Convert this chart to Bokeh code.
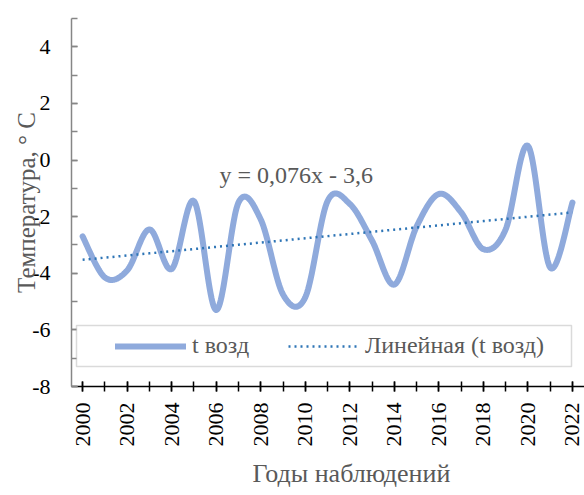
import numpy as np
from bokeh.plotting import figure
from bokeh.models import FixedTicker, Legend, LegendItem, Label, BoxAnnotation, Range1d, Title
from bokeh.embed import file_html
from bokeh.resources import INLINE

# ---- data ----
years = list(range(2000, 2023))
t_air = [-2.7, -4.15, -3.9, -2.45, -3.85, -1.45, -5.3, -1.5, -2.1, -4.75, -4.85, -1.45,
         -1.55, -2.85, -4.4, -2.35, -1.2, -1.85, -3.15, -2.45, 0.5, -3.8, -1.5]
trend_slope = 0.076
trend_intercept = -3.6
x_tick_values = list(range(2000, 2023, 2))
x_tick_labels = [str(v) for v in x_tick_values]
y_tick_values = [-8, -6, -4, -2, 0, 2, 4]
y_tick_labels = ["-8", "-6", "-4", "-2", "0", "2", "4"]
series_name = "t возд"
trend_name = "Линейная (t возд)"
equation_text = "y = 0,076x - 3,6"
x_title = "Годы наблюдений"
y_title = "Температура, ° С"

FONT = "Liberation Serif"
GRAY_TEXT = "#595959"


def smooth(xs, ys, n=24):
    """Excel-like smoothed line (cubic Bezier through the data points)."""
    x = np.asarray(xs, float)
    y = np.asarray(ys, float)
    N = len(x)
    px, py = [], []
    for i in range(N - 1):
        i0 = max(i - 1, 0)
        i3 = min(i + 2, N - 1)
        c1x = x[i] + (x[i + 1] - x[i0]) / 6
        c1y = y[i] + (y[i + 1] - y[i0]) / 6
        c2x = x[i + 1] - (x[i3] - x[i]) / 6
        c2y = y[i + 1] - (y[i3] - y[i]) / 6
        t = np.linspace(0, 1, n, endpoint=(i == N - 2))
        b0 = (1 - t) ** 3
        b1 = 3 * (1 - t) ** 2 * t
        b2 = 3 * (1 - t) * t ** 2
        b3 = t ** 3
        px.extend(b0 * x[i] + b1 * c1x + b2 * c2x + b3 * x[i + 1])
        py.extend(b0 * y[i] + b1 * c1y + b2 * c2y + b3 * y[i + 1])
    return px, py


sx, sy = smooth(years, t_air)
idx = np.arange(1, len(years) + 1)
trend = trend_slope * idx + trend_intercept

p = figure(width=584, height=495,
           x_range=Range1d(1999.5, 2022.54), y_range=Range1d(-8, 5),
           output_backend="svg", toolbar_location=None,
           min_border_left=71, min_border_top=18, min_border_right=0,
           min_border_bottom=106)
p.xgrid.visible = False
p.ygrid.visible = False
p.outline_line_color = None

r1 = p.line(sx, sy, line_color="#8FAADC", line_width=6,
            line_cap="round", line_join="round")
r2 = p.line(years, trend, line_color="#2E75B6", line_width=2.5,
            line_dash="2 4")

# x axis
xa = p.xaxis[0]
xa.ticker = FixedTicker(ticks=x_tick_values, minor_ticks=years)
xa.major_label_overrides = dict(zip(x_tick_values, x_tick_labels))
xa.major_label_orientation = np.pi / 2
xa.major_label_text_font = FONT
xa.major_label_text_font_size = "22px"
xa.major_label_text_color = "#000000"
xa.major_label_standoff = 11
xa.axis_line_color = "#000000"
xa.axis_line_width = 1.5
xa.major_tick_line_color = "#000000"
xa.minor_tick_line_color = "#000000"
xa.major_tick_line_width = 1.5
xa.minor_tick_line_width = 1.5
xa.major_tick_in = 5
xa.major_tick_out = 5
xa.minor_tick_in = 5
xa.minor_tick_out = 5

# y axis
ya = p.yaxis[0]
ya.ticker = FixedTicker(ticks=y_tick_values, minor_ticks=list(range(-8, 6)))
ya.major_label_overrides = dict(zip(y_tick_values, y_tick_labels))
ya.major_label_text_font = FONT
ya.major_label_text_font_size = "22px"
ya.major_label_text_color = "#000000"
ya.major_label_standoff = 21
ya.axis_line_color = "#868686"
ya.axis_line_width = 1.5
ya.major_tick_line_color = "#868686"
ya.minor_tick_line_color = "#868686"
ya.major_tick_line_width = 1.5
ya.minor_tick_line_width = 1.5
ya.major_tick_in = 6
ya.major_tick_out = 0
ya.minor_tick_in = 6
ya.minor_tick_out = 0
ya.axis_label = y_title
ya.axis_label_text_font = FONT
ya.axis_label_text_font_size = "25px"
ya.axis_label_text_font_style = "normal"
ya.axis_label_text_color = GRAY_TEXT
ya.axis_label_standoff = -11

# x title
xt = Title(text=x_title, align="left", offset=181, standoff=15,
           text_font=FONT, text_font_size="26px", text_font_style="normal",
           text_color=GRAY_TEXT)
p.add_layout(xt, "below")

# legend frame
box = BoxAnnotation(left=5, right=500, bottom=20, top=61,
                    left_units="screen", right_units="screen",
                    top_units="screen", bottom_units="screen",
                    fill_color="white", fill_alpha=1.0,
                    line_color="#868686", line_width=1.5)
p.add_layout(box)

legend = Legend(items=[LegendItem(label=series_name, renderers=[r1]),
                       LegendItem(label=trend_name, renderers=[r2])],
                orientation="horizontal", location=(34, 17),
                padding=10, spacing=0, margin=0,
                glyph_width=71, glyph_height=20, label_standoff=6,
                label_width=96,
                label_text_font=FONT, label_text_font_size="24px",
                label_text_color=GRAY_TEXT,
                border_line_alpha=0, background_fill_alpha=0)
p.add_layout(legend)

eq = Label(x=148, y=212, x_units="screen", y_units="screen",
           text=equation_text, text_font=FONT, text_font_size="24px",
           text_color=GRAY_TEXT, text_baseline="alphabetic", text_align="left")
p.add_layout(eq)

open("out.html", "w").write(file_html(p, INLINE))
